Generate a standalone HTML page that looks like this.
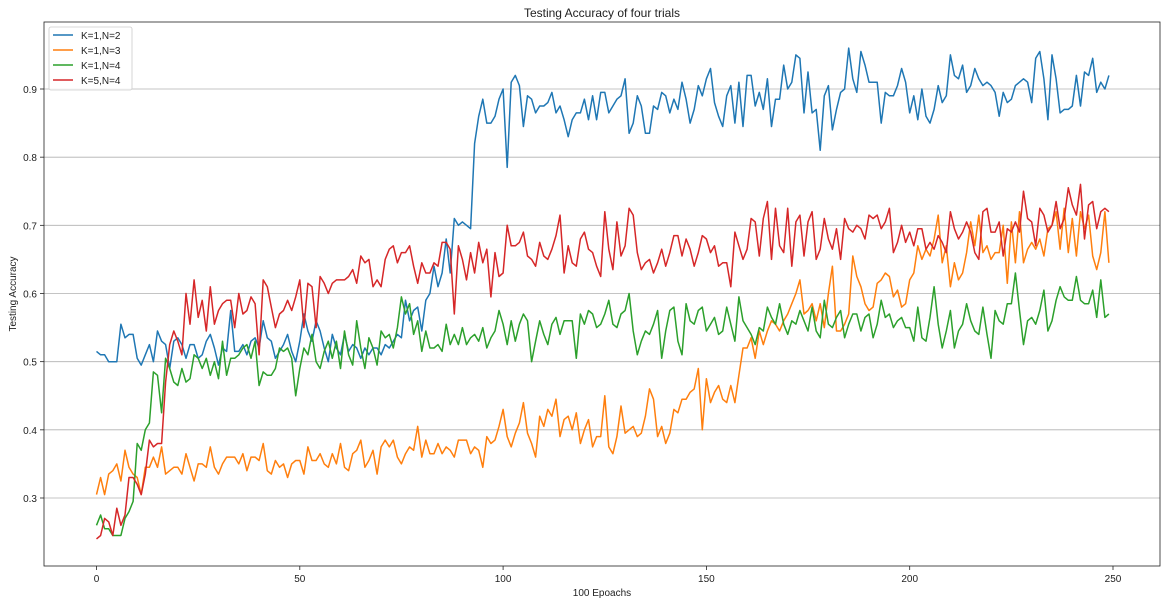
<!DOCTYPE html>
<html><head><meta charset="utf-8"><style>
body{margin:0;background:#fff;font-family:"Liberation Sans","DejaVu Sans",sans-serif}
svg text{font-family:"Liberation Sans","DejaVu Sans",sans-serif;fill:#222}
</style></head><body>
<svg id="chart" width="1167" height="604" xmlns="http://www.w3.org/2000/svg"></svg>
<script>
const seriesNames=["K=1,N=2","K=1,N=3","K=1,N=4","K=5,N=4"];
const seriesColors=["#1f77b4","#ff7f0e","#2ca02c","#d62728"];
const xTicks=[0,50,100,150,200,250];
const yTicks=[0.3,0.4,0.5,0.6,0.7,0.8,0.9];
const blue=[.515,.51,.51,.50,.50,.50,.555,.535,.54,.54,
.505,.495,.51,.525,.50,.545,.53,.525,.49,.53,
.535,.525,.505,.525,.525,.505,.51,.53,.54,.52,
.495,.52,.515,.575,.515,.515,.525,.51,.53,.535,
.52,.56,.535,.53,.505,.515,.525,.54,.515,.50,
.53,.57,.545,.53,.56,.545,.52,.50,.54,.52,
.51,.54,.515,.525,.52,.505,.52,.51,.52,.52,
.51,.525,.52,.53,.54,.535,.59,.56,.575,.58,
.545,.59,.60,.64,.61,.63,.68,.63,.71,.70,
.705,.70,.695,.82,.86,.885,.85,.85,.86,.885,
.90,.785,.91,.92,.905,.845,.89,.885,.865,.875,
.875,.88,.895,.865,.875,.855,.83,.855,.865,.865,
.885,.855,.89,.855,.895,.895,.865,.875,.885,.89,
.915,.835,.85,.89,.875,.835,.835,.875,.87,.895,
.89,.865,.885,.87,.91,.885,.85,.87,.905,.89,
.915,.93,.88,.86,.845,.89,.905,.85,.91,.845,
.92,.92,.875,.895,.87,.915,.845,.885,.885,.935,
.90,.91,.95,.945,.865,.925,.865,.87,.81,.89,
.905,.84,.87,.895,.90,.96,.915,.895,.955,.935,
.91,.91,.91,.85,.895,.89,.89,.905,.93,.91,
.865,.89,.855,.90,.86,.85,.87,.905,.88,.89,
.95,.92,.915,.935,.895,.905,.93,.915,.905,.91,
.905,.895,.86,.895,.88,.885,.905,.91,.915,.91,
.88,.945,.955,.915,.855,.95,.915,.865,.87,.87,
.875,.92,.875,.925,.92,.945,.895,.91,.90,.92];
const orange=[.305,.33,.305,.335,.34,.35,.325,.37,.345,.335,
.33,.305,.345,.345,.36,.345,.375,.335,.34,.345,
.345,.335,.365,.345,.325,.35,.35,.345,.375,.345,
.335,.35,.36,.36,.36,.35,.365,.34,.36,.36,
.355,.38,.34,.335,.355,.345,.35,.33,.35,.355,
.355,.335,.375,.355,.355,.365,.35,.345,.365,.35,
.38,.345,.34,.365,.37,.385,.345,.355,.37,.335,
.375,.385,.375,.385,.36,.35,.365,.375,.37,.405,
.36,.385,.365,.365,.38,.365,.375,.37,.36,.385,
.385,.385,.365,.375,.37,.345,.39,.38,.385,.405,
.43,.39,.375,.395,.41,.44,.395,.38,.36,.42,
.405,.43,.42,.445,.39,.415,.42,.40,.425,.38,
.40,.415,.375,.39,.39,.45,.375,.365,.39,.435,
.395,.40,.405,.39,.395,.42,.46,.445,.39,.405,
.38,.395,.43,.425,.445,.445,.455,.46,.49,.40,
.475,.44,.455,.465,.445,.44,.465,.44,.48,.52,
.52,.535,.505,.545,.525,.545,.56,.555,.545,.56,
.57,.585,.60,.62,.57,.575,.585,.56,.585,.55,
.60,.64,.545,.545,.555,.57,.655,.625,.61,.585,
.575,.58,.615,.62,.63,.625,.595,.605,.58,.585,
.62,.63,.67,.65,.665,.655,.68,.715,.645,.67,
.61,.645,.62,.63,.66,.705,.67,.715,.66,.67,
.65,.66,.66,.70,.615,.705,.645,.72,.645,.665,
.675,.665,.68,.655,.695,.70,.72,.665,.725,.66,
.71,.655,.72,.695,.715,.655,.635,.66,.72,.645];
const green=[.26,.275,.255,.255,.245,.245,.245,.27,.28,.295,
.38,.37,.40,.41,.485,.48,.425,.505,.49,.47,
.465,.49,.47,.475,.51,.505,.49,.505,.48,.50,
.475,.53,.48,.505,.505,.51,.52,.525,.505,.53,
.465,.485,.48,.48,.49,.52,.515,.52,.505,.45,
.49,.52,.51,.54,.50,.49,.515,.53,.505,.53,
.49,.545,.51,.495,.56,.52,.49,.535,.52,.495,
.545,.535,.54,.52,.55,.595,.57,.585,.54,.56,
.515,.545,.52,.52,.525,.515,.555,.525,.54,.525,
.55,.525,.535,.54,.53,.55,.52,.535,.545,.575,
.555,.525,.56,.53,.555,.57,.56,.50,.53,.56,
.54,.525,.555,.565,.54,.56,.56,.56,.505,.57,
.555,.575,.57,.55,.555,.57,.59,.555,.55,.57,
.575,.60,.545,.51,.53,.545,.54,.555,.575,.505,
.545,.575,.58,.53,.51,.585,.56,.555,.575,.58,
.545,.555,.565,.54,.545,.58,.555,.53,.595,.56,
.55,.54,.525,.55,.545,.58,.565,.555,.585,.555,
.54,.56,.555,.575,.56,.545,.58,.545,.535,.59,
.555,.55,.565,.575,.535,.555,.57,.57,.545,.565,
.57,.535,.555,.59,.565,.57,.55,.56,.565,.55,
.55,.53,.58,.535,.53,.565,.61,.555,.52,.545,
.575,.52,.545,.555,.585,.56,.545,.54,.58,.54,
.505,.575,.56,.555,.585,.585,.63,.575,.525,.56,
.565,.555,.575,.605,.545,.56,.59,.61,.595,.59,
.59,.625,.59,.585,.585,.605,.565,.62,.565,.57];
const red=[.24,.245,.27,.265,.245,.285,.26,.275,.33,.33,
.32,.305,.335,.385,.375,.38,.38,.47,.525,.545,
.53,.51,.60,.555,.62,.565,.59,.545,.61,.555,
.575,.585,.59,.59,.55,.60,.57,.575,.595,.585,
.51,.62,.61,.58,.55,.57,.575,.59,.575,.595,
.62,.55,.615,.61,.55,.625,.615,.60,.615,.62,
.62,.62,.625,.635,.615,.655,.645,.65,.61,.62,
.61,.65,.665,.67,.645,.66,.66,.67,.64,.615,
.645,.63,.63,.645,.64,.675,.675,.665,.57,.67,
.65,.62,.66,.63,.675,.645,.665,.595,.66,.625,
.63,.70,.67,.67,.675,.69,.655,.65,.64,.675,
.655,.65,.665,.685,.715,.63,.67,.645,.64,.68,
.69,.665,.66,.64,.625,.72,.665,.635,.705,.655,
.67,.725,.715,.66,.635,.645,.65,.63,.645,.665,
.64,.66,.685,.685,.655,.68,.665,.64,.66,.685,
.68,.66,.67,.64,.645,.645,.61,.69,.67,.65,
.665,.71,.705,.655,.71,.735,.65,.725,.67,.66,
.725,.64,.705,.715,.655,.705,.72,.65,.665,.71,
.68,.665,.695,.65,.71,.695,.69,.70,.695,.68,
.715,.71,.715,.695,.705,.725,.66,.675,.70,.675,
.69,.67,.695,.695,.665,.675,.665,.685,.675,.66,
.72,.695,.68,.69,.705,.69,.66,.65,.72,.725,
.69,.69,.705,.655,.695,.69,.705,.69,.75,.71,
.705,.67,.725,.715,.69,.70,.735,.695,.71,.755,
.73,.715,.76,.68,.73,.735,.695,.72,.725,.72];
const allSeries=[blue,orange,green,red];

const NS="http://www.w3.org/2000/svg";
const svg=document.getElementById('chart');
const L=44,R=1160,T=22,B=566;
function xs(v){return 96.5+(v-0)*(1113-96.5)/250;}
function ys(v){return 498-(v-0.3)*(498-89)/0.6;}
function mk(tag,attrs,parent){const e=document.createElementNS(NS,tag);for(const k in attrs)e.setAttribute(k,attrs[k]);(parent||svg).appendChild(e);return e;}

const title=mk('text',{x:(L+R)/2,y:17,'text-anchor':'middle','font-size':12});
title.textContent='Testing Accuracy of four trials';



yTicks.forEach(v=>{
  const g=mk('line',{x1:L,x2:R,y1:ys(v),y2:ys(v),stroke:'#b0b0b0','stroke-width':0.8});
  
  
  mk('line',{x1:L-4,x2:L,y1:ys(v),y2:ys(v),stroke:'#222','stroke-width':0.8});
  const t=mk('text',{x:L-7,y:ys(v)+4,'text-anchor':'end','font-size':10});
  t.textContent=v.toFixed(1);
  
  
});
xTicks.forEach(v=>{
  mk('line',{x1:xs(v),x2:xs(v),y1:B,y2:B+4,stroke:'#222','stroke-width':0.8});
  const t=mk('text',{x:xs(v),y:B+16,'text-anchor':'middle','font-size':10});
  t.textContent=v;
  
  
});

allSeries.forEach((arr,si)=>{
  const d=arr.map((v,i)=>(i?'L':'M')+xs(i).toFixed(1)+','+ys(v).toFixed(1)).join('');
  const p=mk('path',{d:d,fill:'none',stroke:seriesColors[si],'stroke-width':1.5,'stroke-linejoin':'round'});
  
  
});

const frame=mk('rect',{x:L,y:T,width:R-L,height:B-T,fill:'none',stroke:'#222','stroke-width':0.8});



const xl=mk('text',{x:(L+R)/2,y:596,'text-anchor':'middle','font-size':10});
xl.textContent='100 Epoachs';


const yl=mk('text',{x:16,y:(T+B)/2,'text-anchor':'middle','font-size':10,transform:'rotate(-90 16 '+((T+B)/2)+')'});
yl.textContent='Testing Accuracy';



const lg=mk('g',{});


mk('rect',{x:49,y:27,width:83,height:63,rx:2,fill:'#fff','fill-opacity':0.85,stroke:'#ccc','stroke-width':0.8},lg);
seriesNames.forEach((n,i)=>{
  const y=35+i*15;
  const ln=mk('line',{x1:53,x2:73,y1:y,y2:y,stroke:seriesColors[i],'stroke-width':1.5},lg);
  
  
  const t=mk('text',{x:81,y:y+4,'font-size':10},lg);
  t.textContent=n;
  
  
});
</script>
</body></html>
